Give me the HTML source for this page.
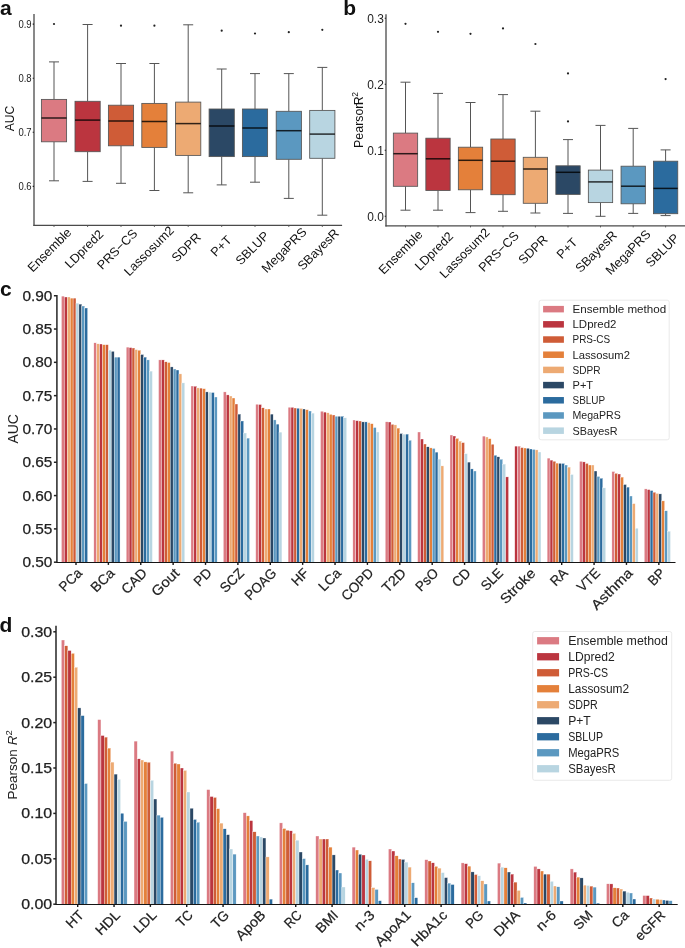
<!DOCTYPE html>
<html><head><meta charset="utf-8"><style>
html,body{margin:0;padding:0;background:#fff;}
svg{display:block;font-family:"Liberation Sans", sans-serif;will-change:transform;filter:blur(0.3px);}
</style></head><body>
<svg width="685" height="948" viewBox="0 0 685 948">
<rect width="685" height="948" fill="#fff"/>
<text x="0" y="15" font-size="21" font-weight="bold" fill="#111">a</text>
<line x1="34" y1="14" x2="34" y2="225.9" stroke="#4a4a4a" stroke-width="1.3"/>
<line x1="33.4" y1="225.3" x2="342.1" y2="225.3" stroke="#4a4a4a" stroke-width="1.3"/>
<line x1="32.7" y1="186.4" x2="34" y2="186.4" stroke="#222" stroke-width="1.1"/>
<text x="31.6" y="190.2" font-size="10.6" text-anchor="end" fill="#222" textLength="13.2" lengthAdjust="spacingAndGlyphs">0.6</text>
<line x1="32.7" y1="132.3" x2="34" y2="132.3" stroke="#222" stroke-width="1.1"/>
<text x="31.6" y="136.1" font-size="10.6" text-anchor="end" fill="#222" textLength="13.2" lengthAdjust="spacingAndGlyphs">0.7</text>
<line x1="32.7" y1="78.2" x2="34" y2="78.2" stroke="#222" stroke-width="1.1"/>
<text x="31.6" y="82" font-size="10.6" text-anchor="end" fill="#222" textLength="13.2" lengthAdjust="spacingAndGlyphs">0.8</text>
<line x1="32.7" y1="24.1" x2="34" y2="24.1" stroke="#222" stroke-width="1.1"/>
<text x="31.6" y="27.9" font-size="10.6" text-anchor="end" fill="#222" textLength="13.2" lengthAdjust="spacingAndGlyphs">0.9</text>
<text transform="translate(14.4,118.5) rotate(-90)" font-size="12.2" text-anchor="middle" fill="#111">AUC</text>
<line x1="54" y1="61.9" x2="54" y2="99.4" stroke="#555" stroke-width="1"/>
<line x1="54" y1="141.8" x2="54" y2="180.8" stroke="#555" stroke-width="1"/>
<line x1="49" y1="61.9" x2="59" y2="61.9" stroke="#555" stroke-width="1"/>
<line x1="49" y1="180.8" x2="59" y2="180.8" stroke="#555" stroke-width="1"/>
<rect x="41.4" y="99.4" width="25.2" height="42.4" fill="#DB7A82" stroke="#555" stroke-width="0.85"/>
<line x1="41.4" y1="118" x2="66.6" y2="118" stroke="#000" stroke-opacity="0.8" stroke-width="1.5"/>
<circle cx="54" cy="24" r="1.1" fill="#222"/>
<line x1="54" y1="225.3" x2="54" y2="226.9" stroke="#555" stroke-width="1"/>
<text transform="translate(72.31,233.17) rotate(-45)" font-size="12.6" text-anchor="end" fill="#111">Ensemble</text>
<line x1="87.6" y1="24.5" x2="87.6" y2="101.3" stroke="#555" stroke-width="1"/>
<line x1="87.6" y1="151.7" x2="87.6" y2="181.4" stroke="#555" stroke-width="1"/>
<line x1="82.6" y1="24.5" x2="92.6" y2="24.5" stroke="#555" stroke-width="1"/>
<line x1="82.6" y1="181.4" x2="92.6" y2="181.4" stroke="#555" stroke-width="1"/>
<rect x="75" y="101.3" width="25.2" height="50.4" fill="#BB353F" stroke="#555" stroke-width="0.85"/>
<line x1="75" y1="120.1" x2="100.2" y2="120.1" stroke="#000" stroke-opacity="0.8" stroke-width="1.5"/>
<line x1="87.6" y1="225.3" x2="87.6" y2="226.9" stroke="#555" stroke-width="1"/>
<text transform="translate(104.11,234.96) rotate(-45)" font-size="12.6" text-anchor="end" fill="#111">LDpred2</text>
<line x1="121" y1="63.5" x2="121" y2="105.2" stroke="#555" stroke-width="1"/>
<line x1="121" y1="145.8" x2="121" y2="183.3" stroke="#555" stroke-width="1"/>
<line x1="116" y1="63.5" x2="126" y2="63.5" stroke="#555" stroke-width="1"/>
<line x1="116" y1="183.3" x2="126" y2="183.3" stroke="#555" stroke-width="1"/>
<rect x="108.4" y="105.2" width="25.2" height="40.6" fill="#CF5C37" stroke="#555" stroke-width="0.85"/>
<line x1="108.4" y1="121" x2="133.6" y2="121" stroke="#000" stroke-opacity="0.8" stroke-width="1.5"/>
<circle cx="121" cy="25.7" r="1.1" fill="#222"/>
<line x1="121" y1="225.3" x2="121" y2="226.9" stroke="#555" stroke-width="1"/>
<text transform="translate(138.08,234.39) rotate(-45)" font-size="12.6" text-anchor="end" fill="#111">PRS−CS</text>
<line x1="154.4" y1="63.5" x2="154.4" y2="103.4" stroke="#555" stroke-width="1"/>
<line x1="154.4" y1="147.4" x2="154.4" y2="190.5" stroke="#555" stroke-width="1"/>
<line x1="149.4" y1="63.5" x2="159.4" y2="63.5" stroke="#555" stroke-width="1"/>
<line x1="149.4" y1="190.5" x2="159.4" y2="190.5" stroke="#555" stroke-width="1"/>
<rect x="141.8" y="103.4" width="25.2" height="44" fill="#E4803A" stroke="#555" stroke-width="0.85"/>
<line x1="141.8" y1="121.5" x2="167" y2="121.5" stroke="#000" stroke-opacity="0.8" stroke-width="1.5"/>
<circle cx="154.4" cy="25.7" r="1.1" fill="#222"/>
<line x1="154.4" y1="225.3" x2="154.4" y2="226.9" stroke="#555" stroke-width="1"/>
<text transform="translate(174.67,231.21) rotate(-45)" font-size="12.6" text-anchor="end" fill="#111">Lassosum2</text>
<line x1="188.2" y1="24.8" x2="188.2" y2="102.1" stroke="#555" stroke-width="1"/>
<line x1="188.2" y1="155.4" x2="188.2" y2="192.8" stroke="#555" stroke-width="1"/>
<line x1="183.2" y1="24.8" x2="193.2" y2="24.8" stroke="#555" stroke-width="1"/>
<line x1="183.2" y1="192.8" x2="193.2" y2="192.8" stroke="#555" stroke-width="1"/>
<rect x="175.6" y="102.1" width="25.2" height="53.3" fill="#EDAA73" stroke="#555" stroke-width="0.85"/>
<line x1="175.6" y1="123.6" x2="200.8" y2="123.6" stroke="#000" stroke-opacity="0.8" stroke-width="1.5"/>
<line x1="188.2" y1="225.3" x2="188.2" y2="226.9" stroke="#555" stroke-width="1"/>
<text transform="translate(201.6,238.07) rotate(-45)" font-size="12.6" text-anchor="end" fill="#111">SDPR</text>
<line x1="221.7" y1="69" x2="221.7" y2="109" stroke="#555" stroke-width="1"/>
<line x1="221.7" y1="156.6" x2="221.7" y2="184.9" stroke="#555" stroke-width="1"/>
<line x1="216.7" y1="69" x2="226.7" y2="69" stroke="#555" stroke-width="1"/>
<line x1="216.7" y1="184.9" x2="226.7" y2="184.9" stroke="#555" stroke-width="1"/>
<rect x="209.1" y="109" width="25.2" height="47.6" fill="#2B4865" stroke="#555" stroke-width="0.85"/>
<line x1="209.1" y1="126" x2="234.3" y2="126" stroke="#000" stroke-opacity="0.8" stroke-width="1.5"/>
<circle cx="221.7" cy="30.7" r="1.1" fill="#222"/>
<line x1="221.7" y1="225.3" x2="221.7" y2="226.9" stroke="#555" stroke-width="1"/>
<text transform="translate(232.41,240.77) rotate(-45)" font-size="12.6" text-anchor="end" fill="#111">P+T</text>
<line x1="255" y1="73.6" x2="255" y2="109" stroke="#555" stroke-width="1"/>
<line x1="255" y1="156.6" x2="255" y2="182.2" stroke="#555" stroke-width="1"/>
<line x1="250" y1="73.6" x2="260" y2="73.6" stroke="#555" stroke-width="1"/>
<line x1="250" y1="182.2" x2="260" y2="182.2" stroke="#555" stroke-width="1"/>
<rect x="242.4" y="109" width="25.2" height="47.6" fill="#2B6B9E" stroke="#555" stroke-width="0.85"/>
<line x1="242.4" y1="128" x2="267.6" y2="128" stroke="#000" stroke-opacity="0.8" stroke-width="1.5"/>
<circle cx="255" cy="33.5" r="1.1" fill="#222"/>
<line x1="255" y1="225.3" x2="255" y2="226.9" stroke="#555" stroke-width="1"/>
<text transform="translate(269.88,236.6) rotate(-45)" font-size="12.6" text-anchor="end" fill="#111">SBLUP</text>
<line x1="288.8" y1="73.6" x2="288.8" y2="111.3" stroke="#555" stroke-width="1"/>
<line x1="288.8" y1="159.3" x2="288.8" y2="198.4" stroke="#555" stroke-width="1"/>
<line x1="283.8" y1="73.6" x2="293.8" y2="73.6" stroke="#555" stroke-width="1"/>
<line x1="283.8" y1="198.4" x2="293.8" y2="198.4" stroke="#555" stroke-width="1"/>
<rect x="276.2" y="111.3" width="25.2" height="48" fill="#5B98C0" stroke="#555" stroke-width="0.85"/>
<line x1="276.2" y1="130.7" x2="301.4" y2="130.7" stroke="#000" stroke-opacity="0.8" stroke-width="1.5"/>
<circle cx="288.8" cy="32.2" r="1.1" fill="#222"/>
<line x1="288.8" y1="225.3" x2="288.8" y2="226.9" stroke="#555" stroke-width="1"/>
<text transform="translate(307.43,232.84) rotate(-45)" font-size="12.6" text-anchor="end" fill="#111">MegaPRS</text>
<line x1="322.3" y1="67.4" x2="322.3" y2="110.4" stroke="#555" stroke-width="1"/>
<line x1="322.3" y1="158.3" x2="322.3" y2="215.2" stroke="#555" stroke-width="1"/>
<line x1="317.3" y1="67.4" x2="327.3" y2="67.4" stroke="#555" stroke-width="1"/>
<line x1="317.3" y1="215.2" x2="327.3" y2="215.2" stroke="#555" stroke-width="1"/>
<rect x="309.7" y="110.4" width="25.2" height="47.9" fill="#B8D5E1" stroke="#555" stroke-width="0.85"/>
<line x1="309.7" y1="134.1" x2="334.9" y2="134.1" stroke="#000" stroke-opacity="0.8" stroke-width="1.5"/>
<circle cx="322.3" cy="29.8" r="1.1" fill="#222"/>
<line x1="322.3" y1="225.3" x2="322.3" y2="226.9" stroke="#555" stroke-width="1"/>
<text transform="translate(339.79,233.99) rotate(-45)" font-size="12.6" text-anchor="end" fill="#111">SBayesR</text>
<text x="343.2" y="15" font-size="21" font-weight="bold" fill="#111">b</text>
<line x1="386" y1="14.3" x2="386" y2="226.4" stroke="#4a4a4a" stroke-width="1.3"/>
<line x1="385.4" y1="225.8" x2="685" y2="225.8" stroke="#4a4a4a" stroke-width="1.3"/>
<line x1="384.7" y1="216.2" x2="386" y2="216.2" stroke="#222" stroke-width="1.1"/>
<text x="383.8" y="220.7" font-size="12.8" text-anchor="end" fill="#222" textLength="16.6" lengthAdjust="spacingAndGlyphs">0.0</text>
<line x1="384.7" y1="150.2" x2="386" y2="150.2" stroke="#222" stroke-width="1.1"/>
<text x="383.8" y="154.7" font-size="12.8" text-anchor="end" fill="#222" textLength="16.6" lengthAdjust="spacingAndGlyphs">0.1</text>
<line x1="384.7" y1="84.2" x2="386" y2="84.2" stroke="#222" stroke-width="1.1"/>
<text x="383.8" y="88.7" font-size="12.8" text-anchor="end" fill="#222" textLength="16.6" lengthAdjust="spacingAndGlyphs">0.2</text>
<line x1="384.7" y1="18.2" x2="386" y2="18.2" stroke="#222" stroke-width="1.1"/>
<text x="383.8" y="22.7" font-size="12.8" text-anchor="end" fill="#222" textLength="16.6" lengthAdjust="spacingAndGlyphs">0.3</text>
<text transform="translate(363.3,147.9) rotate(-90)" font-size="12.4" fill="#111">Pearson<tspan dx="-3.6">R</tspan><tspan font-size="8.6" dx="-0.3" dy="-5.6">2</tspan></text>
<line x1="405.5" y1="82.2" x2="405.5" y2="133.1" stroke="#555" stroke-width="1"/>
<line x1="405.5" y1="186.3" x2="405.5" y2="210.2" stroke="#555" stroke-width="1"/>
<line x1="400.5" y1="82.2" x2="410.5" y2="82.2" stroke="#555" stroke-width="1"/>
<line x1="400.5" y1="210.2" x2="410.5" y2="210.2" stroke="#555" stroke-width="1"/>
<rect x="393.35" y="133.1" width="24.3" height="53.2" fill="#DB7A82" stroke="#555" stroke-width="0.85"/>
<line x1="393.35" y1="153.7" x2="417.65" y2="153.7" stroke="#000" stroke-opacity="0.8" stroke-width="1.5"/>
<circle cx="405.5" cy="23.8" r="1.1" fill="#222"/>
<line x1="405.5" y1="225.8" x2="405.5" y2="227.4" stroke="#555" stroke-width="1"/>
<text transform="translate(423.38,235.35) rotate(-45)" font-size="12.6" text-anchor="end" fill="#111">Ensemble</text>
<line x1="438" y1="93.4" x2="438" y2="138.2" stroke="#555" stroke-width="1"/>
<line x1="438" y1="190.5" x2="438" y2="210.2" stroke="#555" stroke-width="1"/>
<line x1="433" y1="93.4" x2="443" y2="93.4" stroke="#555" stroke-width="1"/>
<line x1="433" y1="210.2" x2="443" y2="210.2" stroke="#555" stroke-width="1"/>
<rect x="425.85" y="138.2" width="24.3" height="52.3" fill="#BB353F" stroke="#555" stroke-width="0.85"/>
<line x1="425.85" y1="158.8" x2="450.15" y2="158.8" stroke="#000" stroke-opacity="0.8" stroke-width="1.5"/>
<circle cx="438" cy="31.8" r="1.1" fill="#222"/>
<line x1="438" y1="225.8" x2="438" y2="227.4" stroke="#555" stroke-width="1"/>
<text transform="translate(454.08,237.15) rotate(-45)" font-size="12.6" text-anchor="end" fill="#111">LDpred2</text>
<line x1="470.5" y1="102.5" x2="470.5" y2="147.2" stroke="#555" stroke-width="1"/>
<line x1="470.5" y1="189.8" x2="470.5" y2="212.6" stroke="#555" stroke-width="1"/>
<line x1="465.5" y1="102.5" x2="475.5" y2="102.5" stroke="#555" stroke-width="1"/>
<line x1="465.5" y1="212.6" x2="475.5" y2="212.6" stroke="#555" stroke-width="1"/>
<rect x="458.35" y="147.2" width="24.3" height="42.6" fill="#E4803A" stroke="#555" stroke-width="0.85"/>
<line x1="458.35" y1="160.3" x2="482.65" y2="160.3" stroke="#000" stroke-opacity="0.8" stroke-width="1.5"/>
<circle cx="470.5" cy="33.8" r="1.1" fill="#222"/>
<line x1="470.5" y1="225.8" x2="470.5" y2="227.4" stroke="#555" stroke-width="1"/>
<text transform="translate(490.34,233.39) rotate(-45)" font-size="12.6" text-anchor="end" fill="#111">Lassosum2</text>
<line x1="503" y1="94.6" x2="503" y2="139" stroke="#555" stroke-width="1"/>
<line x1="503" y1="194.7" x2="503" y2="211.3" stroke="#555" stroke-width="1"/>
<line x1="498" y1="94.6" x2="508" y2="94.6" stroke="#555" stroke-width="1"/>
<line x1="498" y1="211.3" x2="508" y2="211.3" stroke="#555" stroke-width="1"/>
<rect x="490.85" y="139" width="24.3" height="55.7" fill="#CF5C37" stroke="#555" stroke-width="0.85"/>
<line x1="490.85" y1="161.2" x2="515.15" y2="161.2" stroke="#000" stroke-opacity="0.8" stroke-width="1.5"/>
<circle cx="503" cy="28.4" r="1.1" fill="#222"/>
<line x1="503" y1="225.8" x2="503" y2="227.4" stroke="#555" stroke-width="1"/>
<text transform="translate(519.65,236.58) rotate(-45)" font-size="12.6" text-anchor="end" fill="#111">PRS−CS</text>
<line x1="535.4" y1="111.2" x2="535.4" y2="157.3" stroke="#555" stroke-width="1"/>
<line x1="535.4" y1="203.3" x2="535.4" y2="213" stroke="#555" stroke-width="1"/>
<line x1="530.4" y1="111.2" x2="540.4" y2="111.2" stroke="#555" stroke-width="1"/>
<line x1="530.4" y1="213" x2="540.4" y2="213" stroke="#555" stroke-width="1"/>
<rect x="523.25" y="157.3" width="24.3" height="46" fill="#EDAA73" stroke="#555" stroke-width="0.85"/>
<line x1="523.25" y1="169" x2="547.55" y2="169" stroke="#000" stroke-opacity="0.8" stroke-width="1.5"/>
<circle cx="535.4" cy="44" r="1.1" fill="#222"/>
<line x1="535.4" y1="225.8" x2="535.4" y2="227.4" stroke="#555" stroke-width="1"/>
<text transform="translate(548.37,240.26) rotate(-45)" font-size="12.6" text-anchor="end" fill="#111">SDPR</text>
<line x1="568" y1="139.6" x2="568" y2="165.8" stroke="#555" stroke-width="1"/>
<line x1="568" y1="194.4" x2="568" y2="213.4" stroke="#555" stroke-width="1"/>
<line x1="563" y1="139.6" x2="573" y2="139.6" stroke="#555" stroke-width="1"/>
<line x1="563" y1="213.4" x2="573" y2="213.4" stroke="#555" stroke-width="1"/>
<rect x="555.85" y="165.8" width="24.3" height="28.6" fill="#2B4865" stroke="#555" stroke-width="0.85"/>
<line x1="555.85" y1="172.3" x2="580.15" y2="172.3" stroke="#000" stroke-opacity="0.8" stroke-width="1.5"/>
<circle cx="568" cy="73.4" r="1.1" fill="#222"/>
<circle cx="568" cy="121.4" r="1.1" fill="#222"/>
<line x1="568" y1="225.8" x2="568" y2="227.4" stroke="#555" stroke-width="1"/>
<text transform="translate(578.28,242.95) rotate(-45)" font-size="12.6" text-anchor="end" fill="#111">P+T</text>
<line x1="600.5" y1="125.4" x2="600.5" y2="170.1" stroke="#555" stroke-width="1"/>
<line x1="600.5" y1="202.6" x2="600.5" y2="216.3" stroke="#555" stroke-width="1"/>
<line x1="595.5" y1="125.4" x2="605.5" y2="125.4" stroke="#555" stroke-width="1"/>
<line x1="595.5" y1="216.3" x2="605.5" y2="216.3" stroke="#555" stroke-width="1"/>
<rect x="588.35" y="170.1" width="24.3" height="32.5" fill="#B8D5E1" stroke="#555" stroke-width="0.85"/>
<line x1="588.35" y1="181.9" x2="612.65" y2="181.9" stroke="#000" stroke-opacity="0.8" stroke-width="1.5"/>
<line x1="600.5" y1="225.8" x2="600.5" y2="227.4" stroke="#555" stroke-width="1"/>
<text transform="translate(617.56,236.17) rotate(-45)" font-size="12.6" text-anchor="end" fill="#111">SBayesR</text>
<line x1="633.2" y1="128.4" x2="633.2" y2="166.2" stroke="#555" stroke-width="1"/>
<line x1="633.2" y1="203.8" x2="633.2" y2="213.4" stroke="#555" stroke-width="1"/>
<line x1="628.2" y1="128.4" x2="638.2" y2="128.4" stroke="#555" stroke-width="1"/>
<line x1="628.2" y1="213.4" x2="638.2" y2="213.4" stroke="#555" stroke-width="1"/>
<rect x="621.05" y="166.2" width="24.3" height="37.6" fill="#5B98C0" stroke="#555" stroke-width="0.85"/>
<line x1="621.05" y1="186.2" x2="645.35" y2="186.2" stroke="#000" stroke-opacity="0.8" stroke-width="1.5"/>
<line x1="633.2" y1="225.8" x2="633.2" y2="227.4" stroke="#555" stroke-width="1"/>
<text transform="translate(651.4,235.02) rotate(-45)" font-size="12.6" text-anchor="end" fill="#111">MegaPRS</text>
<line x1="665.6" y1="149.9" x2="665.6" y2="161.2" stroke="#555" stroke-width="1"/>
<line x1="665.6" y1="213.7" x2="665.6" y2="215.6" stroke="#555" stroke-width="1"/>
<line x1="660.6" y1="149.9" x2="670.6" y2="149.9" stroke="#555" stroke-width="1"/>
<line x1="660.6" y1="215.6" x2="670.6" y2="215.6" stroke="#555" stroke-width="1"/>
<rect x="653.45" y="161.2" width="24.3" height="52.5" fill="#2B6B9E" stroke="#555" stroke-width="0.85"/>
<line x1="653.45" y1="188.4" x2="677.75" y2="188.4" stroke="#000" stroke-opacity="0.8" stroke-width="1.5"/>
<circle cx="665.6" cy="79.1" r="1.1" fill="#222"/>
<line x1="665.6" y1="225.8" x2="665.6" y2="227.4" stroke="#555" stroke-width="1"/>
<text transform="translate(680.05,238.78) rotate(-45)" font-size="12.6" text-anchor="end" fill="#111">SBLUP</text>
<text x="0" y="295.8" font-size="21" font-weight="bold" fill="#111">c</text>
<rect x="61.43" y="296.1" width="2.91" height="266.1" fill="#DB7A82" stroke="#fff" stroke-width="0.35"/>
<rect x="64.34" y="297" width="2.91" height="265.2" fill="#BB353F" stroke="#fff" stroke-width="0.35"/>
<rect x="67.26" y="297" width="2.91" height="265.2" fill="#EDAA73" stroke="#fff" stroke-width="0.35"/>
<rect x="70.17" y="298.1" width="2.91" height="264.1" fill="#E4803A" stroke="#fff" stroke-width="0.35"/>
<rect x="73.09" y="298.1" width="2.91" height="264.1" fill="#CF5C37" stroke="#fff" stroke-width="0.35"/>
<rect x="76" y="303.1" width="2.91" height="259.1" fill="#B8D5E1" stroke="#fff" stroke-width="0.35"/>
<rect x="78.91" y="304.1" width="2.91" height="258.1" fill="#2B4865" stroke="#fff" stroke-width="0.35"/>
<rect x="81.83" y="306" width="2.91" height="256.2" fill="#5B98C0" stroke="#fff" stroke-width="0.35"/>
<rect x="84.74" y="308" width="2.91" height="254.2" fill="#2B6B9E" stroke="#fff" stroke-width="0.35"/>
<rect x="93.81" y="342.8" width="2.91" height="219.4" fill="#DB7A82" stroke="#fff" stroke-width="0.35"/>
<rect x="96.72" y="343.8" width="2.91" height="218.4" fill="#EDAA73" stroke="#fff" stroke-width="0.35"/>
<rect x="99.64" y="344" width="2.91" height="218.2" fill="#BB353F" stroke="#fff" stroke-width="0.35"/>
<rect x="102.55" y="344.7" width="2.91" height="217.5" fill="#E4803A" stroke="#fff" stroke-width="0.35"/>
<rect x="105.47" y="344.7" width="2.91" height="217.5" fill="#CF5C37" stroke="#fff" stroke-width="0.35"/>
<rect x="108.38" y="350.1" width="2.91" height="212.1" fill="#B8D5E1" stroke="#fff" stroke-width="0.35"/>
<rect x="111.29" y="351.3" width="2.91" height="210.9" fill="#2B4865" stroke="#fff" stroke-width="0.35"/>
<rect x="114.21" y="357.1" width="2.91" height="205.1" fill="#5B98C0" stroke="#fff" stroke-width="0.35"/>
<rect x="117.12" y="357.1" width="2.91" height="205.1" fill="#2B6B9E" stroke="#fff" stroke-width="0.35"/>
<rect x="126.19" y="347.1" width="2.91" height="215.1" fill="#DB7A82" stroke="#fff" stroke-width="0.35"/>
<rect x="129.1" y="347.6" width="2.91" height="214.6" fill="#BB353F" stroke="#fff" stroke-width="0.35"/>
<rect x="132.02" y="348" width="2.91" height="214.2" fill="#CF5C37" stroke="#fff" stroke-width="0.35"/>
<rect x="134.93" y="349.6" width="2.91" height="212.6" fill="#EDAA73" stroke="#fff" stroke-width="0.35"/>
<rect x="137.85" y="350.2" width="2.91" height="212" fill="#E4803A" stroke="#fff" stroke-width="0.35"/>
<rect x="140.76" y="354.5" width="2.91" height="207.7" fill="#2B4865" stroke="#fff" stroke-width="0.35"/>
<rect x="143.67" y="357.1" width="2.91" height="205.1" fill="#2B6B9E" stroke="#fff" stroke-width="0.35"/>
<rect x="146.59" y="359.9" width="2.91" height="202.3" fill="#5B98C0" stroke="#fff" stroke-width="0.35"/>
<rect x="149.5" y="371.1" width="2.91" height="191.1" fill="#B8D5E1" stroke="#fff" stroke-width="0.35"/>
<rect x="158.57" y="359.9" width="2.91" height="202.3" fill="#DB7A82" stroke="#fff" stroke-width="0.35"/>
<rect x="161.48" y="359.9" width="2.91" height="202.3" fill="#BB353F" stroke="#fff" stroke-width="0.35"/>
<rect x="164.4" y="361.8" width="2.91" height="200.4" fill="#CF5C37" stroke="#fff" stroke-width="0.35"/>
<rect x="167.31" y="362.5" width="2.91" height="199.7" fill="#E4803A" stroke="#fff" stroke-width="0.35"/>
<rect x="170.23" y="366.9" width="2.91" height="195.3" fill="#2B4865" stroke="#fff" stroke-width="0.35"/>
<rect x="173.14" y="369" width="2.91" height="193.2" fill="#5B98C0" stroke="#fff" stroke-width="0.35"/>
<rect x="176.05" y="370" width="2.91" height="192.2" fill="#2B6B9E" stroke="#fff" stroke-width="0.35"/>
<rect x="178.97" y="373.9" width="2.91" height="188.3" fill="#EDAA73" stroke="#fff" stroke-width="0.35"/>
<rect x="181.88" y="382.9" width="2.91" height="179.3" fill="#B8D5E1" stroke="#fff" stroke-width="0.35"/>
<rect x="190.95" y="386" width="2.91" height="176.2" fill="#DB7A82" stroke="#fff" stroke-width="0.35"/>
<rect x="193.86" y="386.2" width="2.91" height="176" fill="#BB353F" stroke="#fff" stroke-width="0.35"/>
<rect x="196.78" y="387.9" width="2.91" height="174.3" fill="#EDAA73" stroke="#fff" stroke-width="0.35"/>
<rect x="199.69" y="388.1" width="2.91" height="174.1" fill="#CF5C37" stroke="#fff" stroke-width="0.35"/>
<rect x="202.61" y="388.7" width="2.91" height="173.5" fill="#E4803A" stroke="#fff" stroke-width="0.35"/>
<rect x="205.52" y="391.9" width="2.91" height="170.3" fill="#2B4865" stroke="#fff" stroke-width="0.35"/>
<rect x="208.43" y="392.1" width="2.91" height="170.1" fill="#B8D5E1" stroke="#fff" stroke-width="0.35"/>
<rect x="211.35" y="392.5" width="2.91" height="169.7" fill="#2B6B9E" stroke="#fff" stroke-width="0.35"/>
<rect x="214.26" y="397" width="2.91" height="165.2" fill="#5B98C0" stroke="#fff" stroke-width="0.35"/>
<rect x="223.33" y="391.9" width="2.91" height="170.3" fill="#DB7A82" stroke="#fff" stroke-width="0.35"/>
<rect x="226.24" y="394.9" width="2.91" height="167.3" fill="#BB353F" stroke="#fff" stroke-width="0.35"/>
<rect x="229.16" y="396" width="2.91" height="166.2" fill="#EDAA73" stroke="#fff" stroke-width="0.35"/>
<rect x="232.07" y="398" width="2.91" height="164.2" fill="#E4803A" stroke="#fff" stroke-width="0.35"/>
<rect x="234.99" y="404" width="2.91" height="158.2" fill="#CF5C37" stroke="#fff" stroke-width="0.35"/>
<rect x="237.9" y="414.1" width="2.91" height="148.1" fill="#2B4865" stroke="#fff" stroke-width="0.35"/>
<rect x="240.81" y="421" width="2.91" height="141.2" fill="#2B6B9E" stroke="#fff" stroke-width="0.35"/>
<rect x="243.73" y="433" width="2.91" height="129.2" fill="#B8D5E1" stroke="#fff" stroke-width="0.35"/>
<rect x="246.64" y="438.1" width="2.91" height="124.1" fill="#5B98C0" stroke="#fff" stroke-width="0.35"/>
<rect x="255.71" y="404.2" width="2.91" height="158" fill="#DB7A82" stroke="#fff" stroke-width="0.35"/>
<rect x="258.62" y="404.5" width="2.91" height="157.7" fill="#BB353F" stroke="#fff" stroke-width="0.35"/>
<rect x="261.54" y="407.8" width="2.91" height="154.4" fill="#CF5C37" stroke="#fff" stroke-width="0.35"/>
<rect x="264.45" y="409" width="2.91" height="153.2" fill="#EDAA73" stroke="#fff" stroke-width="0.35"/>
<rect x="267.37" y="409" width="2.91" height="153.2" fill="#E4803A" stroke="#fff" stroke-width="0.35"/>
<rect x="270.28" y="414.1" width="2.91" height="148.1" fill="#2B4865" stroke="#fff" stroke-width="0.35"/>
<rect x="273.19" y="419.9" width="2.91" height="142.3" fill="#5B98C0" stroke="#fff" stroke-width="0.35"/>
<rect x="276.11" y="424.1" width="2.91" height="138.1" fill="#2B6B9E" stroke="#fff" stroke-width="0.35"/>
<rect x="279.02" y="432.1" width="2.91" height="130.1" fill="#B8D5E1" stroke="#fff" stroke-width="0.35"/>
<rect x="288.09" y="407.2" width="2.91" height="155" fill="#DB7A82" stroke="#fff" stroke-width="0.35"/>
<rect x="291" y="407.3" width="2.91" height="154.9" fill="#BB353F" stroke="#fff" stroke-width="0.35"/>
<rect x="293.92" y="408" width="2.91" height="154.2" fill="#CF5C37" stroke="#fff" stroke-width="0.35"/>
<rect x="296.83" y="408.2" width="2.91" height="154" fill="#2B6B9E" stroke="#fff" stroke-width="0.35"/>
<rect x="299.75" y="408.4" width="2.91" height="153.8" fill="#EDAA73" stroke="#fff" stroke-width="0.35"/>
<rect x="302.66" y="409" width="2.91" height="153.2" fill="#2B4865" stroke="#fff" stroke-width="0.35"/>
<rect x="305.57" y="409.7" width="2.91" height="152.5" fill="#E4803A" stroke="#fff" stroke-width="0.35"/>
<rect x="308.49" y="411" width="2.91" height="151.2" fill="#5B98C0" stroke="#fff" stroke-width="0.35"/>
<rect x="311.4" y="413.1" width="2.91" height="149.1" fill="#B8D5E1" stroke="#fff" stroke-width="0.35"/>
<rect x="320.47" y="411.2" width="2.91" height="151" fill="#DB7A82" stroke="#fff" stroke-width="0.35"/>
<rect x="323.38" y="412.1" width="2.91" height="150.1" fill="#BB353F" stroke="#fff" stroke-width="0.35"/>
<rect x="326.3" y="412.8" width="2.91" height="149.4" fill="#EDAA73" stroke="#fff" stroke-width="0.35"/>
<rect x="329.21" y="414.3" width="2.91" height="147.9" fill="#E4803A" stroke="#fff" stroke-width="0.35"/>
<rect x="332.13" y="415" width="2.91" height="147.2" fill="#CF5C37" stroke="#fff" stroke-width="0.35"/>
<rect x="335.04" y="416.2" width="2.91" height="146" fill="#5B98C0" stroke="#fff" stroke-width="0.35"/>
<rect x="337.95" y="416.2" width="2.91" height="146" fill="#2B4865" stroke="#fff" stroke-width="0.35"/>
<rect x="340.87" y="416.2" width="2.91" height="146" fill="#2B6B9E" stroke="#fff" stroke-width="0.35"/>
<rect x="343.78" y="417.8" width="2.91" height="144.4" fill="#B8D5E1" stroke="#fff" stroke-width="0.35"/>
<rect x="352.85" y="420" width="2.91" height="142.2" fill="#DB7A82" stroke="#fff" stroke-width="0.35"/>
<rect x="355.76" y="420.7" width="2.91" height="141.5" fill="#BB353F" stroke="#fff" stroke-width="0.35"/>
<rect x="358.68" y="421" width="2.91" height="141.2" fill="#CF5C37" stroke="#fff" stroke-width="0.35"/>
<rect x="361.59" y="421.9" width="2.91" height="140.3" fill="#2B4865" stroke="#fff" stroke-width="0.35"/>
<rect x="364.51" y="421.9" width="2.91" height="140.3" fill="#2B6B9E" stroke="#fff" stroke-width="0.35"/>
<rect x="367.42" y="422.6" width="2.91" height="139.6" fill="#EDAA73" stroke="#fff" stroke-width="0.35"/>
<rect x="370.33" y="423.7" width="2.91" height="138.5" fill="#E4803A" stroke="#fff" stroke-width="0.35"/>
<rect x="373.25" y="427.5" width="2.91" height="134.7" fill="#5B98C0" stroke="#fff" stroke-width="0.35"/>
<rect x="376.16" y="432" width="2.91" height="130.2" fill="#B8D5E1" stroke="#fff" stroke-width="0.35"/>
<rect x="385.23" y="421.8" width="2.91" height="140.4" fill="#DB7A82" stroke="#fff" stroke-width="0.35"/>
<rect x="388.14" y="422" width="2.91" height="140.2" fill="#BB353F" stroke="#fff" stroke-width="0.35"/>
<rect x="391.06" y="424.3" width="2.91" height="137.9" fill="#CF5C37" stroke="#fff" stroke-width="0.35"/>
<rect x="393.97" y="424.9" width="2.91" height="137.3" fill="#EDAA73" stroke="#fff" stroke-width="0.35"/>
<rect x="396.89" y="428.1" width="2.91" height="134.1" fill="#E4803A" stroke="#fff" stroke-width="0.35"/>
<rect x="399.8" y="433.5" width="2.91" height="128.7" fill="#2B4865" stroke="#fff" stroke-width="0.35"/>
<rect x="402.71" y="434.1" width="2.91" height="128.1" fill="#B8D5E1" stroke="#fff" stroke-width="0.35"/>
<rect x="405.63" y="434.1" width="2.91" height="128.1" fill="#2B6B9E" stroke="#fff" stroke-width="0.35"/>
<rect x="408.54" y="440.2" width="2.91" height="122" fill="#5B98C0" stroke="#fff" stroke-width="0.35"/>
<rect x="417.61" y="432" width="2.91" height="130.2" fill="#DB7A82" stroke="#fff" stroke-width="0.35"/>
<rect x="420.52" y="439" width="2.91" height="123.2" fill="#BB353F" stroke="#fff" stroke-width="0.35"/>
<rect x="423.44" y="444" width="2.91" height="118.2" fill="#CF5C37" stroke="#fff" stroke-width="0.35"/>
<rect x="426.35" y="446.8" width="2.91" height="115.4" fill="#2B4865" stroke="#fff" stroke-width="0.35"/>
<rect x="429.27" y="447.9" width="2.91" height="114.3" fill="#E4803A" stroke="#fff" stroke-width="0.35"/>
<rect x="432.18" y="448.4" width="2.91" height="113.8" fill="#5B98C0" stroke="#fff" stroke-width="0.35"/>
<rect x="435.09" y="452.1" width="2.91" height="110.1" fill="#2B6B9E" stroke="#fff" stroke-width="0.35"/>
<rect x="438.01" y="459.1" width="2.91" height="103.1" fill="#B8D5E1" stroke="#fff" stroke-width="0.35"/>
<rect x="440.92" y="465.9" width="2.91" height="96.3" fill="#EDAA73" stroke="#fff" stroke-width="0.35"/>
<rect x="449.99" y="435" width="2.91" height="127.2" fill="#DB7A82" stroke="#fff" stroke-width="0.35"/>
<rect x="452.9" y="436" width="2.91" height="126.2" fill="#BB353F" stroke="#fff" stroke-width="0.35"/>
<rect x="455.82" y="438.4" width="2.91" height="123.8" fill="#E4803A" stroke="#fff" stroke-width="0.35"/>
<rect x="458.73" y="441.1" width="2.91" height="121.1" fill="#EDAA73" stroke="#fff" stroke-width="0.35"/>
<rect x="461.65" y="442.6" width="2.91" height="119.6" fill="#CF5C37" stroke="#fff" stroke-width="0.35"/>
<rect x="464.56" y="453.7" width="2.91" height="108.5" fill="#B8D5E1" stroke="#fff" stroke-width="0.35"/>
<rect x="467.47" y="462.1" width="2.91" height="100.1" fill="#2B4865" stroke="#fff" stroke-width="0.35"/>
<rect x="470.39" y="468.9" width="2.91" height="93.3" fill="#2B6B9E" stroke="#fff" stroke-width="0.35"/>
<rect x="473.3" y="471" width="2.91" height="91.2" fill="#5B98C0" stroke="#fff" stroke-width="0.35"/>
<rect x="482.37" y="436.1" width="2.91" height="126.1" fill="#DB7A82" stroke="#fff" stroke-width="0.35"/>
<rect x="485.28" y="437" width="2.91" height="125.2" fill="#EDAA73" stroke="#fff" stroke-width="0.35"/>
<rect x="488.2" y="438.7" width="2.91" height="123.5" fill="#E4803A" stroke="#fff" stroke-width="0.35"/>
<rect x="491.11" y="444.2" width="2.91" height="118" fill="#CF5C37" stroke="#fff" stroke-width="0.35"/>
<rect x="494.03" y="455.2" width="2.91" height="107" fill="#2B6B9E" stroke="#fff" stroke-width="0.35"/>
<rect x="496.94" y="456.8" width="2.91" height="105.4" fill="#2B4865" stroke="#fff" stroke-width="0.35"/>
<rect x="499.85" y="459.2" width="2.91" height="103" fill="#5B98C0" stroke="#fff" stroke-width="0.35"/>
<rect x="502.77" y="464.1" width="2.91" height="98.1" fill="#B8D5E1" stroke="#fff" stroke-width="0.35"/>
<rect x="505.68" y="476.9" width="2.91" height="85.3" fill="#BB353F" stroke="#fff" stroke-width="0.35"/>
<rect x="514.75" y="446.1" width="2.91" height="116.1" fill="#BB353F" stroke="#fff" stroke-width="0.35"/>
<rect x="517.66" y="446.1" width="2.91" height="116.1" fill="#DB7A82" stroke="#fff" stroke-width="0.35"/>
<rect x="520.58" y="447.6" width="2.91" height="114.6" fill="#CF5C37" stroke="#fff" stroke-width="0.35"/>
<rect x="523.49" y="448" width="2.91" height="114.2" fill="#E4803A" stroke="#fff" stroke-width="0.35"/>
<rect x="526.41" y="448.2" width="2.91" height="114" fill="#2B4865" stroke="#fff" stroke-width="0.35"/>
<rect x="529.32" y="449" width="2.91" height="113.2" fill="#2B6B9E" stroke="#fff" stroke-width="0.35"/>
<rect x="532.23" y="449.4" width="2.91" height="112.8" fill="#5B98C0" stroke="#fff" stroke-width="0.35"/>
<rect x="535.15" y="449.9" width="2.91" height="112.3" fill="#EDAA73" stroke="#fff" stroke-width="0.35"/>
<rect x="538.06" y="452" width="2.91" height="110.2" fill="#B8D5E1" stroke="#fff" stroke-width="0.35"/>
<rect x="547.13" y="458.1" width="2.91" height="104.1" fill="#DB7A82" stroke="#fff" stroke-width="0.35"/>
<rect x="550.04" y="460.1" width="2.91" height="102.1" fill="#BB353F" stroke="#fff" stroke-width="0.35"/>
<rect x="552.96" y="461.2" width="2.91" height="101" fill="#CF5C37" stroke="#fff" stroke-width="0.35"/>
<rect x="555.87" y="463.1" width="2.91" height="99.1" fill="#E4803A" stroke="#fff" stroke-width="0.35"/>
<rect x="558.79" y="463.3" width="2.91" height="98.9" fill="#2B4865" stroke="#fff" stroke-width="0.35"/>
<rect x="561.7" y="463.4" width="2.91" height="98.8" fill="#2B6B9E" stroke="#fff" stroke-width="0.35"/>
<rect x="564.61" y="465" width="2.91" height="97.2" fill="#5B98C0" stroke="#fff" stroke-width="0.35"/>
<rect x="567.53" y="467.1" width="2.91" height="95.1" fill="#EDAA73" stroke="#fff" stroke-width="0.35"/>
<rect x="570.44" y="474.5" width="2.91" height="87.7" fill="#B8D5E1" stroke="#fff" stroke-width="0.35"/>
<rect x="579.51" y="461.3" width="2.91" height="100.9" fill="#DB7A82" stroke="#fff" stroke-width="0.35"/>
<rect x="582.42" y="461.9" width="2.91" height="100.3" fill="#BB353F" stroke="#fff" stroke-width="0.35"/>
<rect x="585.34" y="463.4" width="2.91" height="98.8" fill="#CF5C37" stroke="#fff" stroke-width="0.35"/>
<rect x="588.25" y="465" width="2.91" height="97.2" fill="#E4803A" stroke="#fff" stroke-width="0.35"/>
<rect x="591.17" y="465" width="2.91" height="97.2" fill="#EDAA73" stroke="#fff" stroke-width="0.35"/>
<rect x="594.08" y="471" width="2.91" height="91.2" fill="#2B4865" stroke="#fff" stroke-width="0.35"/>
<rect x="596.99" y="476.4" width="2.91" height="85.8" fill="#5B98C0" stroke="#fff" stroke-width="0.35"/>
<rect x="599.91" y="478.2" width="2.91" height="84" fill="#2B6B9E" stroke="#fff" stroke-width="0.35"/>
<rect x="602.82" y="487.9" width="2.91" height="74.3" fill="#B8D5E1" stroke="#fff" stroke-width="0.35"/>
<rect x="611.89" y="471.5" width="2.91" height="90.7" fill="#DB7A82" stroke="#fff" stroke-width="0.35"/>
<rect x="614.8" y="473.3" width="2.91" height="88.9" fill="#CF5C37" stroke="#fff" stroke-width="0.35"/>
<rect x="617.72" y="474" width="2.91" height="88.2" fill="#BB353F" stroke="#fff" stroke-width="0.35"/>
<rect x="620.63" y="477.1" width="2.91" height="85.1" fill="#E4803A" stroke="#fff" stroke-width="0.35"/>
<rect x="623.55" y="484.5" width="2.91" height="77.7" fill="#2B4865" stroke="#fff" stroke-width="0.35"/>
<rect x="626.46" y="487.1" width="2.91" height="75.1" fill="#2B6B9E" stroke="#fff" stroke-width="0.35"/>
<rect x="629.37" y="496" width="2.91" height="66.2" fill="#5B98C0" stroke="#fff" stroke-width="0.35"/>
<rect x="632.29" y="503.6" width="2.91" height="58.6" fill="#EDAA73" stroke="#fff" stroke-width="0.35"/>
<rect x="635.2" y="528.2" width="2.91" height="34" fill="#B8D5E1" stroke="#fff" stroke-width="0.35"/>
<rect x="644.27" y="488.9" width="2.91" height="73.3" fill="#DB7A82" stroke="#fff" stroke-width="0.35"/>
<rect x="647.18" y="489.6" width="2.91" height="72.6" fill="#BB353F" stroke="#fff" stroke-width="0.35"/>
<rect x="650.1" y="490.5" width="2.91" height="71.7" fill="#2B6B9E" stroke="#fff" stroke-width="0.35"/>
<rect x="653.01" y="492.2" width="2.91" height="70" fill="#CF5C37" stroke="#fff" stroke-width="0.35"/>
<rect x="655.93" y="493.4" width="2.91" height="68.8" fill="#EDAA73" stroke="#fff" stroke-width="0.35"/>
<rect x="658.84" y="493.9" width="2.91" height="68.3" fill="#2B4865" stroke="#fff" stroke-width="0.35"/>
<rect x="661.75" y="500.9" width="2.91" height="61.3" fill="#E4803A" stroke="#fff" stroke-width="0.35"/>
<rect x="664.67" y="510.8" width="2.91" height="51.4" fill="#5B98C0" stroke="#fff" stroke-width="0.35"/>
<rect x="667.58" y="531.2" width="2.91" height="31" fill="#B8D5E1" stroke="#fff" stroke-width="0.35"/>
<line x1="56.9" y1="295.1" x2="56.9" y2="563.0" stroke="#333" stroke-width="1.6"/>
<line x1="56.1" y1="562.45" x2="675.5" y2="562.45" stroke="#151515" stroke-width="1.05"/>
<line x1="53.9" y1="562.2" x2="56.9" y2="562.2" stroke="#222" stroke-width="1.5"/>
<text x="52.4" y="567.2" font-size="14" text-anchor="end" fill="#222" stroke="#222" stroke-width="0.25" textLength="30" lengthAdjust="spacingAndGlyphs">0.50</text>
<line x1="53.9" y1="528.89" x2="56.9" y2="528.89" stroke="#222" stroke-width="1.5"/>
<text x="52.4" y="533.89" font-size="14" text-anchor="end" fill="#222" stroke="#222" stroke-width="0.25" textLength="30" lengthAdjust="spacingAndGlyphs">0.55</text>
<line x1="53.9" y1="495.58" x2="56.9" y2="495.58" stroke="#222" stroke-width="1.5"/>
<text x="52.4" y="500.58" font-size="14" text-anchor="end" fill="#222" stroke="#222" stroke-width="0.25" textLength="30" lengthAdjust="spacingAndGlyphs">0.60</text>
<line x1="53.9" y1="462.27" x2="56.9" y2="462.27" stroke="#222" stroke-width="1.5"/>
<text x="52.4" y="467.27" font-size="14" text-anchor="end" fill="#222" stroke="#222" stroke-width="0.25" textLength="30" lengthAdjust="spacingAndGlyphs">0.65</text>
<line x1="53.9" y1="428.96" x2="56.9" y2="428.96" stroke="#222" stroke-width="1.5"/>
<text x="52.4" y="433.96" font-size="14" text-anchor="end" fill="#222" stroke="#222" stroke-width="0.25" textLength="30" lengthAdjust="spacingAndGlyphs">0.70</text>
<line x1="53.9" y1="395.65" x2="56.9" y2="395.65" stroke="#222" stroke-width="1.5"/>
<text x="52.4" y="400.65" font-size="14" text-anchor="end" fill="#222" stroke="#222" stroke-width="0.25" textLength="30" lengthAdjust="spacingAndGlyphs">0.75</text>
<line x1="53.9" y1="362.34" x2="56.9" y2="362.34" stroke="#222" stroke-width="1.5"/>
<text x="52.4" y="367.34" font-size="14" text-anchor="end" fill="#222" stroke="#222" stroke-width="0.25" textLength="30" lengthAdjust="spacingAndGlyphs">0.80</text>
<line x1="53.9" y1="329.03" x2="56.9" y2="329.03" stroke="#222" stroke-width="1.5"/>
<text x="52.4" y="334.03" font-size="14" text-anchor="end" fill="#222" stroke="#222" stroke-width="0.25" textLength="30" lengthAdjust="spacingAndGlyphs">0.85</text>
<line x1="53.9" y1="295.72" x2="56.9" y2="295.72" stroke="#222" stroke-width="1.5"/>
<text x="52.4" y="300.72" font-size="14" text-anchor="end" fill="#222" stroke="#222" stroke-width="0.25" textLength="30" lengthAdjust="spacingAndGlyphs">0.90</text>
<text transform="translate(18,428.8) rotate(-90)" font-size="14" text-anchor="middle" fill="#222">AUC</text>
<line x1="76" y1="562.2" x2="76" y2="564.9000000000001" stroke="#151515" stroke-width="1.4"/>
<text transform="translate(83,574) rotate(-45)" font-size="13.9" text-anchor="end" fill="#222" stroke="#222" stroke-width="0.2" textLength="26.03" lengthAdjust="spacingAndGlyphs">PCa</text>
<line x1="108.38" y1="562.2" x2="108.38" y2="564.9000000000001" stroke="#151515" stroke-width="1.4"/>
<text transform="translate(115.38,574) rotate(-45)" font-size="13.9" text-anchor="end" fill="#222" stroke="#222" stroke-width="0.2" textLength="26.92" lengthAdjust="spacingAndGlyphs">BCa</text>
<line x1="140.76" y1="562.2" x2="140.76" y2="564.9000000000001" stroke="#151515" stroke-width="1.4"/>
<text transform="translate(147.76,574) rotate(-45)" font-size="13.9" text-anchor="end" fill="#222" stroke="#222" stroke-width="0.2" textLength="29.27" lengthAdjust="spacingAndGlyphs">CAD</text>
<line x1="173.14" y1="562.2" x2="173.14" y2="564.9000000000001" stroke="#151515" stroke-width="1.4"/>
<text transform="translate(180.14,574) rotate(-45)" font-size="13.9" text-anchor="end" fill="#222" stroke="#222" stroke-width="0.2" textLength="32.81" lengthAdjust="spacingAndGlyphs">Gout</text>
<line x1="205.52" y1="562.2" x2="205.52" y2="564.9000000000001" stroke="#151515" stroke-width="1.4"/>
<text transform="translate(212.52,574) rotate(-45)" font-size="13.9" text-anchor="end" fill="#222" stroke="#222" stroke-width="0.2" textLength="18.67" lengthAdjust="spacingAndGlyphs">PD</text>
<line x1="237.9" y1="562.2" x2="237.9" y2="564.9000000000001" stroke="#151515" stroke-width="1.4"/>
<text transform="translate(244.9,574) rotate(-45)" font-size="13.9" text-anchor="end" fill="#222" stroke="#222" stroke-width="0.2" textLength="27.45" lengthAdjust="spacingAndGlyphs">SCZ</text>
<line x1="270.28" y1="562.2" x2="270.28" y2="564.9000000000001" stroke="#151515" stroke-width="1.4"/>
<text transform="translate(277.28,574) rotate(-45)" font-size="13.9" text-anchor="end" fill="#222" stroke="#222" stroke-width="0.2" textLength="38.27" lengthAdjust="spacingAndGlyphs">POAG</text>
<line x1="302.66" y1="562.2" x2="302.66" y2="564.9000000000001" stroke="#151515" stroke-width="1.4"/>
<text transform="translate(309.66,574) rotate(-45)" font-size="13.9" text-anchor="end" fill="#222" stroke="#222" stroke-width="0.2" textLength="18.05" lengthAdjust="spacingAndGlyphs">HF</text>
<line x1="335.04" y1="562.2" x2="335.04" y2="564.9000000000001" stroke="#151515" stroke-width="1.4"/>
<text transform="translate(342.04,574) rotate(-45)" font-size="13.9" text-anchor="end" fill="#222" stroke="#222" stroke-width="0.2" textLength="25.41" lengthAdjust="spacingAndGlyphs">LCa</text>
<line x1="367.42" y1="562.2" x2="367.42" y2="564.9000000000001" stroke="#151515" stroke-width="1.4"/>
<text transform="translate(374.42,574) rotate(-45)" font-size="13.9" text-anchor="end" fill="#222" stroke="#222" stroke-width="0.2" textLength="38.87" lengthAdjust="spacingAndGlyphs">COPD</text>
<line x1="399.8" y1="562.2" x2="399.8" y2="564.9000000000001" stroke="#151515" stroke-width="1.4"/>
<text transform="translate(406.8,574) rotate(-45)" font-size="13.9" text-anchor="end" fill="#222" stroke="#222" stroke-width="0.2" textLength="27.43" lengthAdjust="spacingAndGlyphs">T2D</text>
<line x1="432.18" y1="562.2" x2="432.18" y2="564.9000000000001" stroke="#151515" stroke-width="1.4"/>
<text transform="translate(439.18,574) rotate(-45)" font-size="13.9" text-anchor="end" fill="#222" stroke="#222" stroke-width="0.2" textLength="25.75" lengthAdjust="spacingAndGlyphs">PsO</text>
<line x1="464.56" y1="562.2" x2="464.56" y2="564.9000000000001" stroke="#151515" stroke-width="1.4"/>
<text transform="translate(471.56,574) rotate(-45)" font-size="13.9" text-anchor="end" fill="#222" stroke="#222" stroke-width="0.2" textLength="19.97" lengthAdjust="spacingAndGlyphs">CD</text>
<line x1="496.94" y1="562.2" x2="496.94" y2="564.9000000000001" stroke="#151515" stroke-width="1.4"/>
<text transform="translate(503.94,574) rotate(-45)" font-size="13.9" text-anchor="end" fill="#222" stroke="#222" stroke-width="0.2" textLength="24.8" lengthAdjust="spacingAndGlyphs">SLE</text>
<line x1="529.32" y1="562.2" x2="529.32" y2="564.9000000000001" stroke="#151515" stroke-width="1.4"/>
<text transform="translate(536.32,574) rotate(-45)" font-size="13.9" text-anchor="end" fill="#222" stroke="#222" stroke-width="0.2" textLength="43.34" lengthAdjust="spacingAndGlyphs">Stroke</text>
<line x1="561.7" y1="562.2" x2="561.7" y2="564.9000000000001" stroke="#151515" stroke-width="1.4"/>
<text transform="translate(568.7,574) rotate(-45)" font-size="13.9" text-anchor="end" fill="#222" stroke="#222" stroke-width="0.2" textLength="18.2" lengthAdjust="spacingAndGlyphs">RA</text>
<line x1="594.08" y1="562.2" x2="594.08" y2="564.9000000000001" stroke="#151515" stroke-width="1.4"/>
<text transform="translate(601.08,574) rotate(-45)" font-size="13.9" text-anchor="end" fill="#222" stroke="#222" stroke-width="0.2" textLength="26.2" lengthAdjust="spacingAndGlyphs">VTE</text>
<line x1="626.46" y1="562.2" x2="626.46" y2="564.9000000000001" stroke="#151515" stroke-width="1.4"/>
<text transform="translate(633.46,574) rotate(-45)" font-size="13.9" text-anchor="end" fill="#222" stroke="#222" stroke-width="0.2" textLength="51.92" lengthAdjust="spacingAndGlyphs">Asthma</text>
<line x1="658.84" y1="562.2" x2="658.84" y2="564.9000000000001" stroke="#151515" stroke-width="1.4"/>
<text transform="translate(665.84,574) rotate(-45)" font-size="13.9" text-anchor="end" fill="#222" stroke="#222" stroke-width="0.2" textLength="17.53" lengthAdjust="spacingAndGlyphs">BP</text>
<rect x="539.1" y="300.2" width="130.1" height="139.6" rx="2" fill="#fff" fill-opacity="0.8" stroke="#e4e4e4" stroke-width="0.8"/>
<rect x="543.1" y="305.9" width="20.8" height="6.5" fill="#DB7A82"/>
<text x="572.5" y="313.1" font-size="11" fill="#222" textLength="93.7" lengthAdjust="spacingAndGlyphs">Ensemble method</text>
<rect x="543.1" y="321.09" width="20.8" height="6.5" fill="#BB353F"/>
<text x="572.5" y="328.29" font-size="11" fill="#222" textLength="43.9" lengthAdjust="spacingAndGlyphs">LDpred2</text>
<rect x="543.1" y="336.28" width="20.8" height="6.5" fill="#CF5C37"/>
<text x="572.5" y="343.48" font-size="11" fill="#222" textLength="37.6" lengthAdjust="spacingAndGlyphs">PRS-CS</text>
<rect x="543.1" y="351.47" width="20.8" height="6.5" fill="#E4803A"/>
<text x="572.5" y="358.67" font-size="11" fill="#222" textLength="57.5" lengthAdjust="spacingAndGlyphs">Lassosum2</text>
<rect x="543.1" y="366.66" width="20.8" height="6.5" fill="#EDAA73"/>
<text x="572.5" y="373.86" font-size="11" fill="#222" textLength="28.1" lengthAdjust="spacingAndGlyphs">SDPR</text>
<rect x="543.1" y="381.85" width="20.8" height="6.5" fill="#2B4865"/>
<text x="572.5" y="389.05" font-size="11" fill="#222" textLength="20.6" lengthAdjust="spacingAndGlyphs">P+T</text>
<rect x="543.1" y="397.04" width="20.8" height="6.5" fill="#2B6B9E"/>
<text x="572.5" y="404.24" font-size="11" fill="#222" textLength="32.6" lengthAdjust="spacingAndGlyphs">SBLUP</text>
<rect x="543.1" y="412.23" width="20.8" height="6.5" fill="#5B98C0"/>
<text x="572.5" y="419.43" font-size="11" fill="#222" textLength="48.2" lengthAdjust="spacingAndGlyphs">MegaPRS</text>
<rect x="543.1" y="427.42" width="20.8" height="6.5" fill="#B8D5E1"/>
<text x="572.5" y="434.62" font-size="11" fill="#222" textLength="45.1" lengthAdjust="spacingAndGlyphs">SBayesR</text>
<text x="-0.5" y="632.3" font-size="21" font-weight="bold" fill="#111">d</text>
<rect x="61.35" y="640" width="3.27" height="264.2" fill="#DB7A82" stroke="#fff" stroke-width="0.35"/>
<rect x="64.62" y="645.8" width="3.27" height="258.4" fill="#CF5C37" stroke="#fff" stroke-width="0.35"/>
<rect x="67.89" y="650.5" width="3.27" height="253.7" fill="#BB353F" stroke="#fff" stroke-width="0.35"/>
<rect x="71.16" y="653.3" width="3.27" height="250.9" fill="#E4803A" stroke="#fff" stroke-width="0.35"/>
<rect x="74.43" y="667.2" width="3.27" height="237" fill="#EDAA73" stroke="#fff" stroke-width="0.35"/>
<rect x="77.7" y="707.9" width="3.27" height="196.3" fill="#2B4865" stroke="#fff" stroke-width="0.35"/>
<rect x="80.97" y="715.6" width="3.27" height="188.6" fill="#2B6B9E" stroke="#fff" stroke-width="0.35"/>
<rect x="84.24" y="783.5" width="3.27" height="120.7" fill="#5B98C0" stroke="#fff" stroke-width="0.35"/>
<rect x="87.51" y="903.9" width="3.27" height="0.3" fill="#B8D5E1" stroke="#fff" stroke-width="0.35"/>
<rect x="97.69" y="719.6" width="3.27" height="184.6" fill="#DB7A82" stroke="#fff" stroke-width="0.35"/>
<rect x="100.96" y="735.5" width="3.27" height="168.7" fill="#BB353F" stroke="#fff" stroke-width="0.35"/>
<rect x="104.23" y="737.1" width="3.27" height="167.1" fill="#CF5C37" stroke="#fff" stroke-width="0.35"/>
<rect x="107.5" y="748.1" width="3.27" height="156.1" fill="#E4803A" stroke="#fff" stroke-width="0.35"/>
<rect x="110.77" y="762.1" width="3.27" height="142.1" fill="#EDAA73" stroke="#fff" stroke-width="0.35"/>
<rect x="114.04" y="774.1" width="3.27" height="130.1" fill="#2B4865" stroke="#fff" stroke-width="0.35"/>
<rect x="117.31" y="779.4" width="3.27" height="124.8" fill="#B8D5E1" stroke="#fff" stroke-width="0.35"/>
<rect x="120.58" y="813.2" width="3.27" height="91" fill="#2B6B9E" stroke="#fff" stroke-width="0.35"/>
<rect x="123.85" y="821.4" width="3.27" height="82.8" fill="#5B98C0" stroke="#fff" stroke-width="0.35"/>
<rect x="134.03" y="741.1" width="3.27" height="163.1" fill="#DB7A82" stroke="#fff" stroke-width="0.35"/>
<rect x="137.3" y="758.8" width="3.27" height="145.4" fill="#BB353F" stroke="#fff" stroke-width="0.35"/>
<rect x="140.57" y="760" width="3.27" height="144.2" fill="#EDAA73" stroke="#fff" stroke-width="0.35"/>
<rect x="143.84" y="761.9" width="3.27" height="142.3" fill="#E4803A" stroke="#fff" stroke-width="0.35"/>
<rect x="147.11" y="762.2" width="3.27" height="142" fill="#CF5C37" stroke="#fff" stroke-width="0.35"/>
<rect x="150.38" y="780.3" width="3.27" height="123.9" fill="#B8D5E1" stroke="#fff" stroke-width="0.35"/>
<rect x="153.65" y="799" width="3.27" height="105.2" fill="#2B4865" stroke="#fff" stroke-width="0.35"/>
<rect x="156.92" y="815.1" width="3.27" height="89.1" fill="#5B98C0" stroke="#fff" stroke-width="0.35"/>
<rect x="160.19" y="817.3" width="3.27" height="86.9" fill="#2B6B9E" stroke="#fff" stroke-width="0.35"/>
<rect x="170.37" y="751.1" width="3.27" height="153.1" fill="#DB7A82" stroke="#fff" stroke-width="0.35"/>
<rect x="173.64" y="763.2" width="3.27" height="141" fill="#CF5C37" stroke="#fff" stroke-width="0.35"/>
<rect x="176.91" y="764" width="3.27" height="140.2" fill="#E4803A" stroke="#fff" stroke-width="0.35"/>
<rect x="180.18" y="768" width="3.27" height="136.2" fill="#BB353F" stroke="#fff" stroke-width="0.35"/>
<rect x="183.45" y="770.4" width="3.27" height="133.8" fill="#EDAA73" stroke="#fff" stroke-width="0.35"/>
<rect x="186.72" y="792" width="3.27" height="112.2" fill="#B8D5E1" stroke="#fff" stroke-width="0.35"/>
<rect x="189.99" y="808.2" width="3.27" height="96" fill="#2B4865" stroke="#fff" stroke-width="0.35"/>
<rect x="193.26" y="819.4" width="3.27" height="84.8" fill="#2B6B9E" stroke="#fff" stroke-width="0.35"/>
<rect x="196.53" y="822.2" width="3.27" height="82" fill="#5B98C0" stroke="#fff" stroke-width="0.35"/>
<rect x="206.71" y="789.6" width="3.27" height="114.6" fill="#DB7A82" stroke="#fff" stroke-width="0.35"/>
<rect x="209.98" y="796.5" width="3.27" height="107.7" fill="#BB353F" stroke="#fff" stroke-width="0.35"/>
<rect x="213.25" y="797.4" width="3.27" height="106.8" fill="#CF5C37" stroke="#fff" stroke-width="0.35"/>
<rect x="216.52" y="808.7" width="3.27" height="95.5" fill="#E4803A" stroke="#fff" stroke-width="0.35"/>
<rect x="219.79" y="823.1" width="3.27" height="81.1" fill="#EDAA73" stroke="#fff" stroke-width="0.35"/>
<rect x="223.06" y="828.8" width="3.27" height="75.4" fill="#2B6B9E" stroke="#fff" stroke-width="0.35"/>
<rect x="226.33" y="834.7" width="3.27" height="69.5" fill="#2B4865" stroke="#fff" stroke-width="0.35"/>
<rect x="229.6" y="849" width="3.27" height="55.2" fill="#B8D5E1" stroke="#fff" stroke-width="0.35"/>
<rect x="232.87" y="854.1" width="3.27" height="50.1" fill="#5B98C0" stroke="#fff" stroke-width="0.35"/>
<rect x="243.05" y="812.7" width="3.27" height="91.5" fill="#DB7A82" stroke="#fff" stroke-width="0.35"/>
<rect x="246.32" y="815.9" width="3.27" height="88.3" fill="#E4803A" stroke="#fff" stroke-width="0.35"/>
<rect x="249.59" y="820.6" width="3.27" height="83.6" fill="#BB353F" stroke="#fff" stroke-width="0.35"/>
<rect x="252.86" y="831.8" width="3.27" height="72.4" fill="#CF5C37" stroke="#fff" stroke-width="0.35"/>
<rect x="256.13" y="836" width="3.27" height="68.2" fill="#5B98C0" stroke="#fff" stroke-width="0.35"/>
<rect x="259.4" y="837" width="3.27" height="67.2" fill="#B8D5E1" stroke="#fff" stroke-width="0.35"/>
<rect x="262.67" y="838" width="3.27" height="66.2" fill="#2B4865" stroke="#fff" stroke-width="0.35"/>
<rect x="265.94" y="856.9" width="3.27" height="47.3" fill="#EDAA73" stroke="#fff" stroke-width="0.35"/>
<rect x="269.21" y="899.1" width="3.27" height="5.1" fill="#2B6B9E" stroke="#fff" stroke-width="0.35"/>
<rect x="279.39" y="822.9" width="3.27" height="81.3" fill="#DB7A82" stroke="#fff" stroke-width="0.35"/>
<rect x="282.66" y="828.5" width="3.27" height="75.7" fill="#E4803A" stroke="#fff" stroke-width="0.35"/>
<rect x="285.93" y="830.2" width="3.27" height="74" fill="#CF5C37" stroke="#fff" stroke-width="0.35"/>
<rect x="289.2" y="830.8" width="3.27" height="73.4" fill="#BB353F" stroke="#fff" stroke-width="0.35"/>
<rect x="292.47" y="833.4" width="3.27" height="70.8" fill="#EDAA73" stroke="#fff" stroke-width="0.35"/>
<rect x="295.74" y="840.2" width="3.27" height="64" fill="#B8D5E1" stroke="#fff" stroke-width="0.35"/>
<rect x="299.01" y="852" width="3.27" height="52.2" fill="#2B4865" stroke="#fff" stroke-width="0.35"/>
<rect x="302.28" y="858.6" width="3.27" height="45.6" fill="#5B98C0" stroke="#fff" stroke-width="0.35"/>
<rect x="305.55" y="864.9" width="3.27" height="39.3" fill="#2B6B9E" stroke="#fff" stroke-width="0.35"/>
<rect x="315.73" y="836" width="3.27" height="68.2" fill="#DB7A82" stroke="#fff" stroke-width="0.35"/>
<rect x="319" y="839" width="3.27" height="65.2" fill="#EDAA73" stroke="#fff" stroke-width="0.35"/>
<rect x="322.27" y="839" width="3.27" height="65.2" fill="#BB353F" stroke="#fff" stroke-width="0.35"/>
<rect x="325.54" y="839" width="3.27" height="65.2" fill="#CF5C37" stroke="#fff" stroke-width="0.35"/>
<rect x="328.81" y="847.1" width="3.27" height="57.1" fill="#E4803A" stroke="#fff" stroke-width="0.35"/>
<rect x="332.08" y="854.9" width="3.27" height="49.3" fill="#2B4865" stroke="#fff" stroke-width="0.35"/>
<rect x="335.35" y="870" width="3.27" height="34.2" fill="#2B6B9E" stroke="#fff" stroke-width="0.35"/>
<rect x="338.62" y="873" width="3.27" height="31.2" fill="#5B98C0" stroke="#fff" stroke-width="0.35"/>
<rect x="341.89" y="887" width="3.27" height="17.2" fill="#B8D5E1" stroke="#fff" stroke-width="0.35"/>
<rect x="352.07" y="847.1" width="3.27" height="57.1" fill="#DB7A82" stroke="#fff" stroke-width="0.35"/>
<rect x="355.34" y="850" width="3.27" height="54.2" fill="#E4803A" stroke="#fff" stroke-width="0.35"/>
<rect x="358.61" y="854.2" width="3.27" height="50" fill="#2B4865" stroke="#fff" stroke-width="0.35"/>
<rect x="361.88" y="855" width="3.27" height="49.2" fill="#BB353F" stroke="#fff" stroke-width="0.35"/>
<rect x="365.15" y="859.2" width="3.27" height="45" fill="#B8D5E1" stroke="#fff" stroke-width="0.35"/>
<rect x="368.42" y="860.8" width="3.27" height="43.4" fill="#CF5C37" stroke="#fff" stroke-width="0.35"/>
<rect x="371.69" y="887.6" width="3.27" height="16.6" fill="#EDAA73" stroke="#fff" stroke-width="0.35"/>
<rect x="374.96" y="889.4" width="3.27" height="14.8" fill="#5B98C0" stroke="#fff" stroke-width="0.35"/>
<rect x="378.23" y="900.7" width="3.27" height="3.5" fill="#2B6B9E" stroke="#fff" stroke-width="0.35"/>
<rect x="388.41" y="849" width="3.27" height="55.2" fill="#DB7A82" stroke="#fff" stroke-width="0.35"/>
<rect x="391.68" y="851" width="3.27" height="53.2" fill="#BB353F" stroke="#fff" stroke-width="0.35"/>
<rect x="394.95" y="855.8" width="3.27" height="48.4" fill="#E4803A" stroke="#fff" stroke-width="0.35"/>
<rect x="398.22" y="859" width="3.27" height="45.2" fill="#CF5C37" stroke="#fff" stroke-width="0.35"/>
<rect x="401.49" y="859.4" width="3.27" height="44.8" fill="#2B4865" stroke="#fff" stroke-width="0.35"/>
<rect x="404.76" y="862.1" width="3.27" height="42.1" fill="#B8D5E1" stroke="#fff" stroke-width="0.35"/>
<rect x="408.03" y="867.1" width="3.27" height="37.1" fill="#EDAA73" stroke="#fff" stroke-width="0.35"/>
<rect x="411.3" y="882.8" width="3.27" height="21.4" fill="#5B98C0" stroke="#fff" stroke-width="0.35"/>
<rect x="414.57" y="897.7" width="3.27" height="6.5" fill="#2B6B9E" stroke="#fff" stroke-width="0.35"/>
<rect x="424.75" y="859.7" width="3.27" height="44.5" fill="#DB7A82" stroke="#fff" stroke-width="0.35"/>
<rect x="428.02" y="861" width="3.27" height="43.2" fill="#CF5C37" stroke="#fff" stroke-width="0.35"/>
<rect x="431.29" y="862.8" width="3.27" height="41.4" fill="#BB353F" stroke="#fff" stroke-width="0.35"/>
<rect x="434.56" y="866.3" width="3.27" height="37.9" fill="#E4803A" stroke="#fff" stroke-width="0.35"/>
<rect x="437.83" y="868.1" width="3.27" height="36.1" fill="#EDAA73" stroke="#fff" stroke-width="0.35"/>
<rect x="441.1" y="872.6" width="3.27" height="31.6" fill="#B8D5E1" stroke="#fff" stroke-width="0.35"/>
<rect x="444.37" y="877.6" width="3.27" height="26.6" fill="#2B4865" stroke="#fff" stroke-width="0.35"/>
<rect x="447.64" y="883.1" width="3.27" height="21.1" fill="#5B98C0" stroke="#fff" stroke-width="0.35"/>
<rect x="450.91" y="884.5" width="3.27" height="19.7" fill="#2B6B9E" stroke="#fff" stroke-width="0.35"/>
<rect x="461.09" y="862.9" width="3.27" height="41.3" fill="#DB7A82" stroke="#fff" stroke-width="0.35"/>
<rect x="464.36" y="863.7" width="3.27" height="40.5" fill="#BB353F" stroke="#fff" stroke-width="0.35"/>
<rect x="467.63" y="866.1" width="3.27" height="38.1" fill="#E4803A" stroke="#fff" stroke-width="0.35"/>
<rect x="470.9" y="871.9" width="3.27" height="32.3" fill="#2B4865" stroke="#fff" stroke-width="0.35"/>
<rect x="474.17" y="874.5" width="3.27" height="29.7" fill="#CF5C37" stroke="#fff" stroke-width="0.35"/>
<rect x="477.44" y="875.8" width="3.27" height="28.4" fill="#B8D5E1" stroke="#fff" stroke-width="0.35"/>
<rect x="480.71" y="880.8" width="3.27" height="23.4" fill="#EDAA73" stroke="#fff" stroke-width="0.35"/>
<rect x="483.98" y="884" width="3.27" height="20.2" fill="#5B98C0" stroke="#fff" stroke-width="0.35"/>
<rect x="487.25" y="901" width="3.27" height="3.2" fill="#2B6B9E" stroke="#fff" stroke-width="0.35"/>
<rect x="497.43" y="863.1" width="3.27" height="41.1" fill="#DB7A82" stroke="#fff" stroke-width="0.35"/>
<rect x="500.7" y="867.1" width="3.27" height="37.1" fill="#B8D5E1" stroke="#fff" stroke-width="0.35"/>
<rect x="503.97" y="867.8" width="3.27" height="36.4" fill="#E4803A" stroke="#fff" stroke-width="0.35"/>
<rect x="507.24" y="872" width="3.27" height="32.2" fill="#2B4865" stroke="#fff" stroke-width="0.35"/>
<rect x="510.51" y="874.1" width="3.27" height="30.1" fill="#BB353F" stroke="#fff" stroke-width="0.35"/>
<rect x="513.78" y="882.1" width="3.27" height="22.1" fill="#CF5C37" stroke="#fff" stroke-width="0.35"/>
<rect x="517.05" y="890.4" width="3.27" height="13.8" fill="#EDAA73" stroke="#fff" stroke-width="0.35"/>
<rect x="520.32" y="897.4" width="3.27" height="6.8" fill="#5B98C0" stroke="#fff" stroke-width="0.35"/>
<rect x="523.59" y="903" width="3.27" height="1.2" fill="#2B6B9E" stroke="#fff" stroke-width="0.35"/>
<rect x="533.77" y="866.4" width="3.27" height="37.8" fill="#DB7A82" stroke="#fff" stroke-width="0.35"/>
<rect x="537.04" y="868.9" width="3.27" height="35.3" fill="#BB353F" stroke="#fff" stroke-width="0.35"/>
<rect x="540.31" y="871" width="3.27" height="33.2" fill="#E4803A" stroke="#fff" stroke-width="0.35"/>
<rect x="543.58" y="874.1" width="3.27" height="30.1" fill="#2B4865" stroke="#fff" stroke-width="0.35"/>
<rect x="546.85" y="874.1" width="3.27" height="30.1" fill="#CF5C37" stroke="#fff" stroke-width="0.35"/>
<rect x="550.12" y="881.3" width="3.27" height="22.9" fill="#B8D5E1" stroke="#fff" stroke-width="0.35"/>
<rect x="553.39" y="886" width="3.27" height="18.2" fill="#EDAA73" stroke="#fff" stroke-width="0.35"/>
<rect x="556.66" y="886.8" width="3.27" height="17.4" fill="#5B98C0" stroke="#fff" stroke-width="0.35"/>
<rect x="559.93" y="901" width="3.27" height="3.2" fill="#2B6B9E" stroke="#fff" stroke-width="0.35"/>
<rect x="570.11" y="868.9" width="3.27" height="35.3" fill="#DB7A82" stroke="#fff" stroke-width="0.35"/>
<rect x="573.38" y="872.1" width="3.27" height="32.1" fill="#BB353F" stroke="#fff" stroke-width="0.35"/>
<rect x="576.65" y="877.1" width="3.27" height="27.1" fill="#E4803A" stroke="#fff" stroke-width="0.35"/>
<rect x="579.92" y="877.9" width="3.27" height="26.3" fill="#2B4865" stroke="#fff" stroke-width="0.35"/>
<rect x="583.19" y="885.1" width="3.27" height="19.1" fill="#EDAA73" stroke="#fff" stroke-width="0.35"/>
<rect x="586.46" y="885.5" width="3.27" height="18.7" fill="#B8D5E1" stroke="#fff" stroke-width="0.35"/>
<rect x="589.73" y="886.1" width="3.27" height="18.1" fill="#CF5C37" stroke="#fff" stroke-width="0.35"/>
<rect x="593" y="887.1" width="3.27" height="17.1" fill="#5B98C0" stroke="#fff" stroke-width="0.35"/>
<rect x="596.27" y="903.1" width="3.27" height="1.1" fill="#2B6B9E" stroke="#fff" stroke-width="0.35"/>
<rect x="606.45" y="883.8" width="3.27" height="20.4" fill="#DB7A82" stroke="#fff" stroke-width="0.35"/>
<rect x="609.72" y="883.9" width="3.27" height="20.3" fill="#BB353F" stroke="#fff" stroke-width="0.35"/>
<rect x="612.99" y="887.8" width="3.27" height="16.4" fill="#E4803A" stroke="#fff" stroke-width="0.35"/>
<rect x="616.26" y="888" width="3.27" height="16.2" fill="#CF5C37" stroke="#fff" stroke-width="0.35"/>
<rect x="619.53" y="889" width="3.27" height="15.2" fill="#EDAA73" stroke="#fff" stroke-width="0.35"/>
<rect x="622.8" y="891.1" width="3.27" height="13.1" fill="#2B4865" stroke="#fff" stroke-width="0.35"/>
<rect x="626.07" y="892.2" width="3.27" height="12" fill="#B8D5E1" stroke="#fff" stroke-width="0.35"/>
<rect x="629.34" y="893" width="3.27" height="11.2" fill="#5B98C0" stroke="#fff" stroke-width="0.35"/>
<rect x="632.61" y="899" width="3.27" height="5.2" fill="#2B6B9E" stroke="#fff" stroke-width="0.35"/>
<rect x="642.79" y="895.5" width="3.27" height="8.7" fill="#DB7A82" stroke="#fff" stroke-width="0.35"/>
<rect x="646.06" y="895.6" width="3.27" height="8.6" fill="#BB353F" stroke="#fff" stroke-width="0.35"/>
<rect x="649.33" y="898" width="3.27" height="6.2" fill="#CF5C37" stroke="#fff" stroke-width="0.35"/>
<rect x="652.6" y="899" width="3.27" height="5.2" fill="#B8D5E1" stroke="#fff" stroke-width="0.35"/>
<rect x="655.87" y="899.2" width="3.27" height="5" fill="#E4803A" stroke="#fff" stroke-width="0.35"/>
<rect x="659.14" y="899.6" width="3.27" height="4.6" fill="#EDAA73" stroke="#fff" stroke-width="0.35"/>
<rect x="662.41" y="900" width="3.27" height="4.2" fill="#2B6B9E" stroke="#fff" stroke-width="0.35"/>
<rect x="665.68" y="900.4" width="3.27" height="3.8" fill="#2B4865" stroke="#fff" stroke-width="0.35"/>
<rect x="668.95" y="900.7" width="3.27" height="3.5" fill="#5B98C0" stroke="#fff" stroke-width="0.35"/>
<line x1="56.0" y1="625.8" x2="56.0" y2="905.0" stroke="#333" stroke-width="1.6"/>
<line x1="55.2" y1="904.45" x2="677.7" y2="904.45" stroke="#151515" stroke-width="1.05"/>
<line x1="53.3" y1="904.2" x2="56.0" y2="904.2" stroke="#222" stroke-width="1.5"/>
<text x="52.2" y="909.2" font-size="14" text-anchor="end" fill="#222" stroke="#222" stroke-width="0.25" textLength="31" lengthAdjust="spacingAndGlyphs">0.00</text>
<line x1="53.3" y1="858.8" x2="56.0" y2="858.8" stroke="#222" stroke-width="1.5"/>
<text x="52.2" y="863.8" font-size="14" text-anchor="end" fill="#222" stroke="#222" stroke-width="0.25" textLength="31" lengthAdjust="spacingAndGlyphs">0.05</text>
<line x1="53.3" y1="813.4" x2="56.0" y2="813.4" stroke="#222" stroke-width="1.5"/>
<text x="52.2" y="818.4" font-size="14" text-anchor="end" fill="#222" stroke="#222" stroke-width="0.25" textLength="31" lengthAdjust="spacingAndGlyphs">0.10</text>
<line x1="53.3" y1="768" x2="56.0" y2="768" stroke="#222" stroke-width="1.5"/>
<text x="52.2" y="773" font-size="14" text-anchor="end" fill="#222" stroke="#222" stroke-width="0.25" textLength="31" lengthAdjust="spacingAndGlyphs">0.15</text>
<line x1="53.3" y1="722.6" x2="56.0" y2="722.6" stroke="#222" stroke-width="1.5"/>
<text x="52.2" y="727.6" font-size="14" text-anchor="end" fill="#222" stroke="#222" stroke-width="0.25" textLength="31" lengthAdjust="spacingAndGlyphs">0.20</text>
<line x1="53.3" y1="677.2" x2="56.0" y2="677.2" stroke="#222" stroke-width="1.5"/>
<text x="52.2" y="682.2" font-size="14" text-anchor="end" fill="#222" stroke="#222" stroke-width="0.25" textLength="31" lengthAdjust="spacingAndGlyphs">0.25</text>
<line x1="53.3" y1="631.8" x2="56.0" y2="631.8" stroke="#222" stroke-width="1.5"/>
<text x="52.2" y="636.8" font-size="14" text-anchor="end" fill="#222" stroke="#222" stroke-width="0.25" textLength="31" lengthAdjust="spacingAndGlyphs">0.30</text>
<text transform="translate(17.1,799.4) rotate(-90)" font-size="13.5" fill="#222">Pearson <tspan font-style="italic">R</tspan><tspan font-size="9.5" dy="-5.5">2</tspan></text>
<line x1="77.7" y1="904.2" x2="77.7" y2="906.9000000000001" stroke="#151515" stroke-width="1.4"/>
<text transform="translate(84.7,916) rotate(-45)" font-size="13.9" text-anchor="end" fill="#222" stroke="#222" stroke-width="0.2" textLength="18.53" lengthAdjust="spacingAndGlyphs">HT</text>
<line x1="114.04" y1="904.2" x2="114.04" y2="906.9000000000001" stroke="#151515" stroke-width="1.4"/>
<text transform="translate(121.04,916) rotate(-45)" font-size="13.9" text-anchor="end" fill="#222" stroke="#222" stroke-width="0.2" textLength="28.28" lengthAdjust="spacingAndGlyphs">HDL</text>
<line x1="150.38" y1="904.2" x2="150.38" y2="906.9000000000001" stroke="#151515" stroke-width="1.4"/>
<text transform="translate(157.38,916) rotate(-45)" font-size="13.9" text-anchor="end" fill="#222" stroke="#222" stroke-width="0.2" textLength="25.63" lengthAdjust="spacingAndGlyphs">LDL</text>
<line x1="186.72" y1="904.2" x2="186.72" y2="906.9000000000001" stroke="#151515" stroke-width="1.4"/>
<text transform="translate(193.72,916) rotate(-45)" font-size="13.9" text-anchor="end" fill="#222" stroke="#222" stroke-width="0.2" textLength="17.01" lengthAdjust="spacingAndGlyphs">TC</text>
<line x1="223.06" y1="904.2" x2="223.06" y2="906.9000000000001" stroke="#151515" stroke-width="1.4"/>
<text transform="translate(230.06,916) rotate(-45)" font-size="13.9" text-anchor="end" fill="#222" stroke="#222" stroke-width="0.2" textLength="18.85" lengthAdjust="spacingAndGlyphs">TG</text>
<line x1="259.4" y1="904.2" x2="259.4" y2="906.9000000000001" stroke="#151515" stroke-width="1.4"/>
<text transform="translate(266.4,916) rotate(-45)" font-size="13.9" text-anchor="end" fill="#222" stroke="#222" stroke-width="0.2" textLength="35.59" lengthAdjust="spacingAndGlyphs">ApoB</text>
<line x1="295.74" y1="904.2" x2="295.74" y2="906.9000000000001" stroke="#151515" stroke-width="1.4"/>
<text transform="translate(302.74,916) rotate(-45)" font-size="13.9" text-anchor="end" fill="#222" stroke="#222" stroke-width="0.2" textLength="18.27" lengthAdjust="spacingAndGlyphs">RC</text>
<line x1="332.08" y1="904.2" x2="332.08" y2="906.9000000000001" stroke="#151515" stroke-width="1.4"/>
<text transform="translate(339.08,916) rotate(-45)" font-size="13.9" text-anchor="end" fill="#222" stroke="#222" stroke-width="0.2" textLength="25.07" lengthAdjust="spacingAndGlyphs">BMI</text>
<line x1="368.42" y1="904.2" x2="368.42" y2="906.9000000000001" stroke="#151515" stroke-width="1.4"/>
<text transform="translate(375.42,916) rotate(-45)" font-size="13.9" text-anchor="end" fill="#222" stroke="#222" stroke-width="0.2" textLength="22.18" lengthAdjust="spacingAndGlyphs">n-3</text>
<line x1="404.76" y1="904.2" x2="404.76" y2="906.9000000000001" stroke="#151515" stroke-width="1.4"/>
<text transform="translate(411.76,916) rotate(-45)" font-size="13.9" text-anchor="end" fill="#222" stroke="#222" stroke-width="0.2" textLength="44.21" lengthAdjust="spacingAndGlyphs">ApoA1</text>
<line x1="441.1" y1="904.2" x2="441.1" y2="906.9000000000001" stroke="#151515" stroke-width="1.4"/>
<text transform="translate(448.1,916) rotate(-45)" font-size="13.9" text-anchor="end" fill="#222" stroke="#222" stroke-width="0.2" textLength="44.29" lengthAdjust="spacingAndGlyphs">HbA1c</text>
<line x1="477.44" y1="904.2" x2="477.44" y2="906.9000000000001" stroke="#151515" stroke-width="1.4"/>
<text transform="translate(484.44,916) rotate(-45)" font-size="13.9" text-anchor="end" fill="#222" stroke="#222" stroke-width="0.2" textLength="18.74" lengthAdjust="spacingAndGlyphs">PG</text>
<line x1="513.78" y1="904.2" x2="513.78" y2="906.9000000000001" stroke="#151515" stroke-width="1.4"/>
<text transform="translate(520.78,916) rotate(-45)" font-size="13.9" text-anchor="end" fill="#222" stroke="#222" stroke-width="0.2" textLength="30" lengthAdjust="spacingAndGlyphs">DHA</text>
<line x1="550.12" y1="904.2" x2="550.12" y2="906.9000000000001" stroke="#151515" stroke-width="1.4"/>
<text transform="translate(557.12,916) rotate(-45)" font-size="13.9" text-anchor="end" fill="#222" stroke="#222" stroke-width="0.2" textLength="22.18" lengthAdjust="spacingAndGlyphs">n-6</text>
<line x1="586.46" y1="904.2" x2="586.46" y2="906.9000000000001" stroke="#151515" stroke-width="1.4"/>
<text transform="translate(593.46,916) rotate(-45)" font-size="13.9" text-anchor="end" fill="#222" stroke="#222" stroke-width="0.2" textLength="20.37" lengthAdjust="spacingAndGlyphs">SM</text>
<line x1="622.8" y1="904.2" x2="622.8" y2="906.9000000000001" stroke="#151515" stroke-width="1.4"/>
<text transform="translate(629.8,916) rotate(-45)" font-size="13.9" text-anchor="end" fill="#222" stroke="#222" stroke-width="0.2" textLength="17.83" lengthAdjust="spacingAndGlyphs">Ca</text>
<line x1="659.14" y1="904.2" x2="659.14" y2="906.9000000000001" stroke="#151515" stroke-width="1.4"/>
<text transform="translate(666.14,916) rotate(-45)" font-size="13.9" text-anchor="end" fill="#222" stroke="#222" stroke-width="0.2" textLength="36.18" lengthAdjust="spacingAndGlyphs">eGFR</text>
<rect x="532.7" y="631.5" width="139" height="148.8" rx="2" fill="#fff" fill-opacity="0.8" stroke="#e4e4e4" stroke-width="0.8"/>
<rect x="537.1" y="637.1" width="22" height="7.3" fill="#DB7A82"/>
<text x="568.2" y="645.3" font-size="12" fill="#222" textLength="99.7" lengthAdjust="spacingAndGlyphs">Ensemble method</text>
<rect x="537.1" y="653.1" width="22" height="7.3" fill="#BB353F"/>
<text x="568.2" y="661.3" font-size="12" fill="#222" textLength="46.5" lengthAdjust="spacingAndGlyphs">LDpred2</text>
<rect x="537.1" y="669.1" width="22" height="7.3" fill="#CF5C37"/>
<text x="568.2" y="677.3" font-size="12" fill="#222" textLength="39.9" lengthAdjust="spacingAndGlyphs">PRS-CS</text>
<rect x="537.1" y="685.1" width="22" height="7.3" fill="#E4803A"/>
<text x="568.2" y="693.3" font-size="12" fill="#222" textLength="60.9" lengthAdjust="spacingAndGlyphs">Lassosum2</text>
<rect x="537.1" y="701.1" width="22" height="7.3" fill="#EDAA73"/>
<text x="568.2" y="709.3" font-size="12" fill="#222" textLength="29.6" lengthAdjust="spacingAndGlyphs">SDPR</text>
<rect x="537.1" y="717.1" width="22" height="7.3" fill="#2B4865"/>
<text x="568.2" y="725.3" font-size="12" fill="#222" textLength="22.6" lengthAdjust="spacingAndGlyphs">P+T</text>
<rect x="537.1" y="733.1" width="22" height="7.3" fill="#2B6B9E"/>
<text x="568.2" y="741.3" font-size="12" fill="#222" textLength="34.8" lengthAdjust="spacingAndGlyphs">SBLUP</text>
<rect x="537.1" y="749.1" width="22" height="7.3" fill="#5B98C0"/>
<text x="568.2" y="757.3" font-size="12" fill="#222" textLength="51.1" lengthAdjust="spacingAndGlyphs">MegaPRS</text>
<rect x="537.1" y="765.1" width="22" height="7.3" fill="#B8D5E1"/>
<text x="568.2" y="773.3" font-size="12" fill="#222" textLength="47.6" lengthAdjust="spacingAndGlyphs">SBayesR</text>
</svg>
</body></html>
